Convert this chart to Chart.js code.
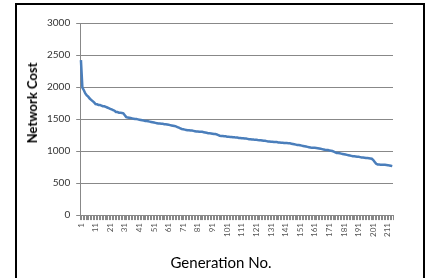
<!DOCTYPE html>
<html>
<head>
<meta charset="utf-8">
<script src="https://cdn.jsdelivr.net/npm/chart.js@4"></script>
<style>
  html, body { margin: 0; padding: 0; background: #fff; overflow: hidden; }
  #wrap { position: relative; width: 434px; height: 278px; }
  #frame { position: absolute; left: 15px; top: 3px; width: 406px; height: 300px; border: 2px solid #000; }
  #chartBox { position: absolute; left: 0; top: 0; width: 434px; height: 278px; }
  .ytitle { position: absolute; left: 32px; top: 103px; transform: translate(-50%, -50%) rotate(-90deg);
            font: bold 13px Lato, sans-serif; color: #000; white-space: nowrap; }
  .xtitle { position: absolute; left: 221px; top: 262px; transform: translate(-50%, -50%);
            font: 15px Lato, sans-serif; color: #000; white-space: nowrap; }
</style>
</head>
<body>
<div id="wrap">
  <div id="frame"></div>
  <div id="chartBox"><canvas id="costChart"></canvas></div>
  <div class="ytitle">Network Cost</div>
  <div class="xtitle">Generation No.</div>
</div>
<script>
// network cost per generation
const costs = [
  2420, 1990, 1950, 1900, 1870, 1850, 1820, 1800, 1780, 1760,
  1735, 1730, 1720, 1720, 1710, 1700, 1700, 1690, 1680, 1670,
  1660, 1650, 1640, 1630, 1610, 1610, 1600, 1600, 1595, 1590,
  1560, 1530, 1525, 1520, 1515, 1510, 1505, 1500, 1500, 1495,
  1490, 1485, 1480, 1475, 1470, 1470, 1465, 1460, 1455, 1450,
  1445, 1440, 1435, 1430, 1430, 1425, 1425, 1420, 1420, 1415,
  1410, 1405, 1400, 1395, 1390, 1385, 1375, 1365, 1355, 1345,
  1340, 1335, 1330, 1325, 1325, 1320, 1320, 1315, 1310, 1305,
  1305, 1300, 1300, 1300, 1295, 1290, 1285, 1280, 1280, 1275,
  1270, 1265, 1265, 1260, 1250, 1240, 1235, 1235, 1230, 1230,
  1225, 1225, 1220, 1220, 1215, 1215, 1210, 1210, 1205, 1205,
  1200, 1200, 1195, 1195, 1190, 1185, 1185, 1180, 1180, 1175,
  1175, 1172, 1170, 1170, 1165, 1160, 1160, 1155, 1150, 1150,
  1145, 1145, 1140, 1140, 1140, 1135, 1135, 1130, 1130, 1125,
  1125, 1125, 1120, 1120, 1115, 1110, 1105, 1100, 1095, 1095,
  1090, 1085, 1080, 1075, 1070, 1065, 1060, 1055, 1050, 1050,
  1050, 1048, 1045, 1040, 1035, 1030, 1025, 1020, 1018, 1015,
  1010, 1005, 1000, 990, 980, 970, 970, 965, 960, 955,
  950, 945, 940, 935, 930, 925, 920, 918, 915, 912,
  910, 905, 900, 898, 895, 892, 890, 888, 885, 880,
  860, 830, 800, 790, 790, 788, 788, 785, 785, 783,
  780, 775, 770, 765
];

// generation numbers 1..N
const generations = costs.map((_, i) => String(i + 1));
// only every 10th generation gets a printed label
const labelEvery = 10;

const yMin = 0;
const yMax = 3000;
const yStep = 500;

new Chart(document.getElementById("costChart"), {
    type: 'line',
    data: {
        labels: generations,
        datasets: [{
            data: costs,
            borderColor: '#4a7ebb',
            borderWidth: 2.5,
            tension: 0,
            pointRadius: 0,
            fill: false
        }]
    },
    options: {
        responsive: true,
        maintainAspectRatio: false,
        animation: false,
        layout: {
            padding: { left: 41, right: 41, top: 23, bottom: 38 }
        },
        plugins: {
            legend: { display: false },
            tooltip: { enabled: false }
        },
        scales: {
            x: {
                offset: true,
                grid: {
                    offset: true,
                    drawOnChartArea: false,
                    drawTicks: true,
                    tickLength: 5,
                    color: '#888'
                },
                border: { display: true, color: '#888', width: 1 },
                ticks: {
                    autoSkip: false,
                    minRotation: 90,
                    maxRotation: 90,
                    padding: 3,
                    color: '#555',
                    font: { family: 'Lato', size: 8 },
                    callback: (val, i) => (i % labelEvery === 0 ? generations[i] : '')
                }
            },
            y: {
                min: yMin,
                max: yMax,
                grid: {
                    color: '#888',
                    drawTicks: true,
                    tickLength: 4
                },
                border: { display: true, color: '#888', width: 1 },
                ticks: {
                    stepSize: yStep,
                    padding: 6,
                    color: '#333',
                    font: { family: 'Lato', size: 10 },
                    callback: v => String(v)
                }
            }
        }
    }
});
</script>
</body>
</html>
